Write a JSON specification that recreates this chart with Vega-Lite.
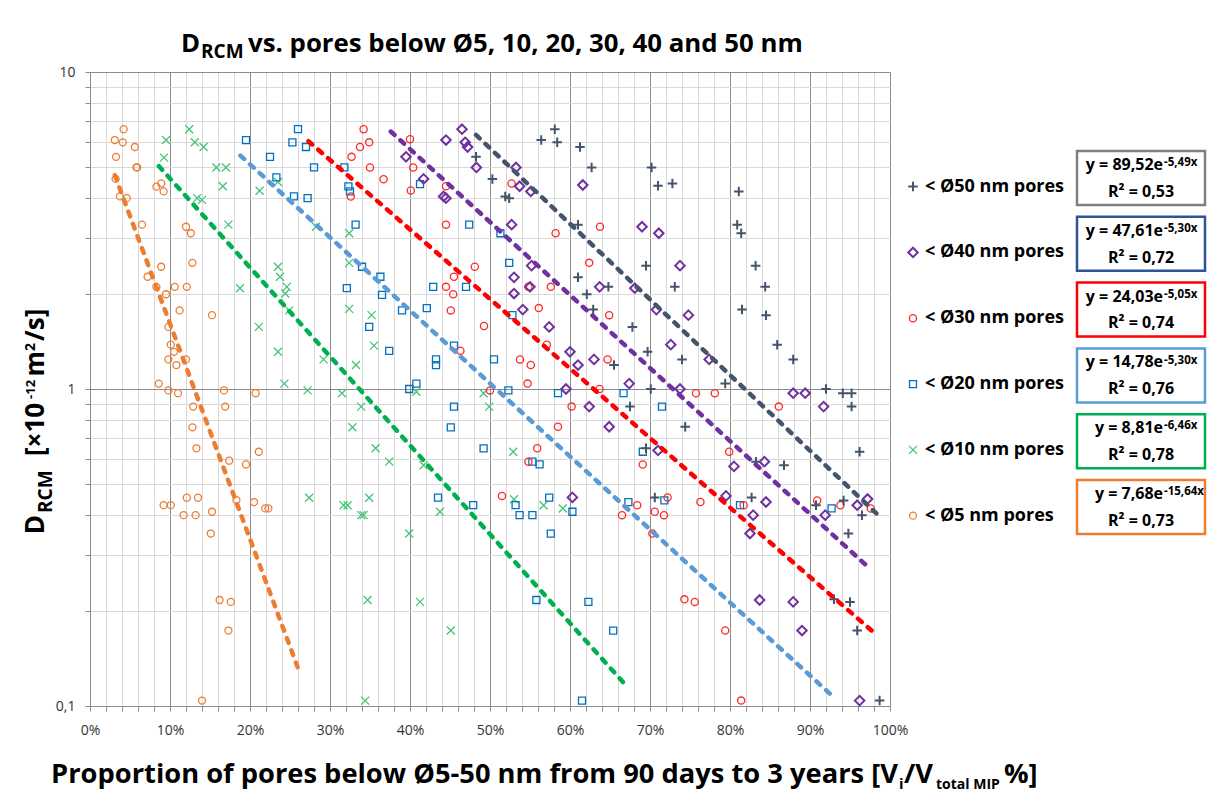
{
"$schema": "https://vega.github.io/schema/vega-lite/v6.json",
"width": 800,
"height": 634,
"autosize": {"type": "none"},
"padding": {"left": 90, "top": 72, "right": 324, "bottom": 88},
"background": "white",
"config": {"view": {"stroke": null}, "font": "Open Sans"},
"datasets": {
"points": [
{"series":"Ø5","x":0.031,"y":6.1},{"series":"Ø5","x":0.042,"y":6.6},{"series":"Ø5","x":0.041,"y":6.0},{"series":"Ø5","x":0.056,"y":5.8},{"series":"Ø5","x":0.0325,"y":5.4},{"series":"Ø5","x":0.058,"y":5.0},{"series":"Ø5","x":0.059,"y":5.0},{"series":"Ø5","x":0.032,"y":4.6},{"series":"Ø5","x":0.0375,"y":4.05},{"series":"Ø5","x":0.046,"y":4.0},{"series":"Ø5","x":0.065,"y":3.3},{"series":"Ø5","x":0.083,"y":4.35},{"series":"Ø5","x":0.089,"y":4.45},{"series":"Ø5","x":0.092,"y":4.2},{"series":"Ø5","x":0.12,"y":3.25},{"series":"Ø5","x":0.126,"y":3.1},{"series":"Ø5","x":0.089,"y":2.43},{"series":"Ø5","x":0.072,"y":2.26},{"series":"Ø5","x":0.128,"y":2.5},{"series":"Ø5","x":0.083,"y":2.1},{"series":"Ø5","x":0.095,"y":1.99},{"series":"Ø5","x":0.106,"y":2.1},{"series":"Ø5","x":0.121,"y":2.1},{"series":"Ø5","x":0.112,"y":1.77},{"series":"Ø5","x":0.1525,"y":1.71},{"series":"Ø5","x":0.098,"y":1.57},{"series":"Ø5","x":0.101,"y":1.38},{"series":"Ø5","x":0.105,"y":1.31},{"series":"Ø5","x":0.098,"y":1.24},{"series":"Ø5","x":0.108,"y":1.19},{"series":"Ø5","x":0.12,"y":1.24},{"series":"Ø5","x":0.086,"y":1.04},{"series":"Ø5","x":0.098,"y":0.99},{"series":"Ø5","x":0.11,"y":0.97},{"series":"Ø5","x":0.1675,"y":0.99},{"series":"Ø5","x":0.207,"y":0.97},{"series":"Ø5","x":0.129,"y":0.88},{"series":"Ø5","x":0.169,"y":0.88},{"series":"Ø5","x":0.128,"y":0.757},{"series":"Ø5","x":0.133,"y":0.65},{"series":"Ø5","x":0.211,"y":0.634},{"series":"Ø5","x":0.174,"y":0.594},{"series":"Ø5","x":0.195,"y":0.578},{"series":"Ø5","x":0.121,"y":0.454},{"series":"Ø5","x":0.135,"y":0.454},{"series":"Ø5","x":0.092,"y":0.43},{"series":"Ø5","x":0.101,"y":0.43},{"series":"Ø5","x":0.117,"y":0.4},{"series":"Ø5","x":0.132,"y":0.4},{"series":"Ø5","x":0.1525,"y":0.41},{"series":"Ø5","x":0.183,"y":0.446},{"series":"Ø5","x":0.205,"y":0.44},{"series":"Ø5","x":0.219,"y":0.42},{"series":"Ø5","x":0.223,"y":0.42},{"series":"Ø5","x":0.151,"y":0.35},{"series":"Ø5","x":0.162,"y":0.216},{"series":"Ø5","x":0.176,"y":0.213},{"series":"Ø5","x":0.173,"y":0.173},{"series":"Ø5","x":0.14,"y":0.104},
{"series":"Ø10","x":0.095,"y":6.1},{"series":"Ø10","x":0.0925,"y":5.37},{"series":"Ø10","x":0.124,"y":6.6},{"series":"Ø10","x":0.131,"y":6.0},{"series":"Ø10","x":0.142,"y":5.8},{"series":"Ø10","x":0.158,"y":5.0},{"series":"Ø10","x":0.17,"y":5.0},{"series":"Ø10","x":0.166,"y":4.36},{"series":"Ø10","x":0.134,"y":4.0},{"series":"Ø10","x":0.14,"y":3.95},{"series":"Ø10","x":0.173,"y":3.3},{"series":"Ø10","x":0.212,"y":4.22},{"series":"Ø10","x":0.235,"y":4.5},{"series":"Ø10","x":0.2825,"y":3.25},{"series":"Ø10","x":0.324,"y":3.1},{"series":"Ø10","x":0.324,"y":2.5},{"series":"Ø10","x":0.1875,"y":2.08},{"series":"Ø10","x":0.235,"y":2.43},{"series":"Ø10","x":0.2375,"y":2.26},{"series":"Ø10","x":0.246,"y":2.1},{"series":"Ø10","x":0.244,"y":2.0},{"series":"Ø10","x":0.249,"y":1.77},{"series":"Ø10","x":0.211,"y":1.57},{"series":"Ø10","x":0.235,"y":1.31},{"series":"Ø10","x":0.292,"y":1.24},{"series":"Ø10","x":0.3325,"y":1.19},{"series":"Ø10","x":0.324,"y":1.79},{"series":"Ø10","x":0.352,"y":1.71},{"series":"Ø10","x":0.355,"y":1.37},{"series":"Ø10","x":0.243,"y":1.04},{"series":"Ø10","x":0.272,"y":0.99},{"series":"Ø10","x":0.315,"y":0.97},{"series":"Ø10","x":0.339,"y":0.88},{"series":"Ø10","x":0.328,"y":0.757},{"series":"Ø10","x":0.357,"y":0.65},{"series":"Ø10","x":0.274,"y":0.454},{"series":"Ø10","x":0.317,"y":0.43},{"series":"Ø10","x":0.322,"y":0.43},{"series":"Ø10","x":0.339,"y":0.4},{"series":"Ø10","x":0.342,"y":0.4},{"series":"Ø10","x":0.349,"y":0.454},{"series":"Ø10","x":0.347,"y":0.216},{"series":"Ø10","x":0.344,"y":0.104},{"series":"Ø10","x":0.408,"y":0.98},{"series":"Ø10","x":0.492,"y":0.97},{"series":"Ø10","x":0.499,"y":0.88},{"series":"Ø10","x":0.374,"y":0.59},{"series":"Ø10","x":0.417,"y":0.575},{"series":"Ø10","x":0.529,"y":0.634},{"series":"Ø10","x":0.53,"y":0.449},{"series":"Ø10","x":0.567,"y":0.43},{"series":"Ø10","x":0.591,"y":0.42},{"series":"Ø10","x":0.4375,"y":0.41},{"series":"Ø10","x":0.399,"y":0.35},{"series":"Ø10","x":0.4125,"y":0.213},{"series":"Ø10","x":0.451,"y":0.173},
{"series":"Ø20","x":0.195,"y":6.1},{"series":"Ø20","x":0.225,"y":5.4},{"series":"Ø20","x":0.233,"y":4.65},{"series":"Ø20","x":0.253,"y":6.0},{"series":"Ø20","x":0.26,"y":6.6},{"series":"Ø20","x":0.27,"y":5.8},{"series":"Ø20","x":0.28,"y":5.0},{"series":"Ø20","x":0.255,"y":4.05},{"series":"Ø20","x":0.272,"y":4.0},{"series":"Ø20","x":0.318,"y":5.0},{"series":"Ø20","x":0.323,"y":4.36},{"series":"Ø20","x":0.325,"y":4.2},{"series":"Ø20","x":0.332,"y":3.3},{"series":"Ø20","x":0.34,"y":2.43},{"series":"Ø20","x":0.321,"y":2.08},{"series":"Ø20","x":0.349,"y":1.57},{"series":"Ø20","x":0.363,"y":2.26},{"series":"Ø20","x":0.365,"y":1.98},{"series":"Ø20","x":0.4125,"y":4.43},{"series":"Ø20","x":0.39,"y":1.77},{"series":"Ø20","x":0.421,"y":1.8},{"series":"Ø20","x":0.429,"y":2.1},{"series":"Ø20","x":0.47,"y":2.1},{"series":"Ø20","x":0.474,"y":3.3},{"series":"Ø20","x":0.513,"y":3.1},{"series":"Ø20","x":0.524,"y":2.5},{"series":"Ø20","x":0.528,"y":1.71},{"series":"Ø20","x":0.374,"y":1.32},{"series":"Ø20","x":0.4325,"y":1.24},{"series":"Ø20","x":0.4325,"y":1.19},{"series":"Ø20","x":0.455,"y":1.37},{"series":"Ø20","x":0.505,"y":1.24},{"series":"Ø20","x":0.399,"y":1.0},{"series":"Ø20","x":0.408,"y":1.04},{"series":"Ø20","x":0.523,"y":0.99},{"series":"Ø20","x":0.455,"y":0.88},{"series":"Ø20","x":0.451,"y":0.757},{"series":"Ø20","x":0.492,"y":0.65},{"series":"Ø20","x":0.553,"y":0.59},{"series":"Ø20","x":0.562,"y":0.578},{"series":"Ø20","x":0.435,"y":0.454},{"series":"Ø20","x":0.479,"y":0.43},{"series":"Ø20","x":0.532,"y":0.43},{"series":"Ø20","x":0.537,"y":0.4},{"series":"Ø20","x":0.553,"y":0.4},{"series":"Ø20","x":0.574,"y":0.454},{"series":"Ø20","x":0.603,"y":0.41},{"series":"Ø20","x":0.576,"y":0.35},{"series":"Ø20","x":0.585,"y":0.97},{"series":"Ø20","x":0.667,"y":0.97},{"series":"Ø20","x":0.558,"y":0.216},{"series":"Ø20","x":0.623,"y":0.213},{"series":"Ø20","x":0.654,"y":0.173},{"series":"Ø20","x":0.615,"y":0.104},{"series":"Ø20","x":0.715,"y":0.88},{"series":"Ø20","x":0.691,"y":0.634},{"series":"Ø20","x":0.673,"y":0.44},{"series":"Ø20","x":0.718,"y":0.445},{"series":"Ø20","x":0.8125,"y":0.43},{"series":"Ø20","x":0.927,"y":0.42},
{"series":"Ø30","x":0.342,"y":6.6},{"series":"Ø30","x":0.349,"y":6.0},{"series":"Ø30","x":0.3375,"y":5.8},{"series":"Ø30","x":0.327,"y":5.4},{"series":"Ø30","x":0.35,"y":5.0},{"series":"Ø30","x":0.326,"y":4.05},{"series":"Ø30","x":0.367,"y":4.59},{"series":"Ø30","x":0.4,"y":6.14},{"series":"Ø30","x":0.404,"y":5.0},{"series":"Ø30","x":0.401,"y":4.23},{"series":"Ø30","x":0.445,"y":4.36},{"series":"Ø30","x":0.445,"y":3.3},{"series":"Ø30","x":0.527,"y":4.45},{"series":"Ø30","x":0.582,"y":3.1},{"series":"Ø30","x":0.6375,"y":3.25},{"series":"Ø30","x":0.624,"y":2.5},{"series":"Ø30","x":0.481,"y":2.43},{"series":"Ø30","x":0.455,"y":2.26},{"series":"Ø30","x":0.445,"y":2.1},{"series":"Ø30","x":0.454,"y":1.99},{"series":"Ø30","x":0.451,"y":1.77},{"series":"Ø30","x":0.4925,"y":1.58},{"series":"Ø30","x":0.548,"y":2.1},{"series":"Ø30","x":0.561,"y":1.8},{"series":"Ø30","x":0.576,"y":2.1},{"series":"Ø30","x":0.649,"y":1.71},{"series":"Ø30","x":0.463,"y":1.32},{"series":"Ø30","x":0.5375,"y":1.24},{"series":"Ø30","x":0.551,"y":1.19},{"series":"Ø30","x":0.571,"y":1.38},{"series":"Ø30","x":0.647,"y":1.24},{"series":"Ø30","x":0.547,"y":1.04},{"series":"Ø30","x":0.637,"y":1.0},{"series":"Ø30","x":0.5,"y":0.99},{"series":"Ø30","x":0.602,"y":0.88},{"series":"Ø30","x":0.585,"y":0.76},{"series":"Ø30","x":0.559,"y":0.65},{"series":"Ø30","x":0.548,"y":0.59},{"series":"Ø30","x":0.515,"y":0.46},{"series":"Ø30","x":0.665,"y":0.4},{"series":"Ø30","x":0.684,"y":0.43},{"series":"Ø30","x":0.691,"y":0.578},{"series":"Ø30","x":0.7575,"y":0.97},{"series":"Ø30","x":0.781,"y":0.97},{"series":"Ø30","x":0.861,"y":0.88},{"series":"Ø30","x":0.799,"y":0.634},{"series":"Ø30","x":0.706,"y":0.41},{"series":"Ø30","x":0.7175,"y":0.4},{"series":"Ø30","x":0.722,"y":0.455},{"series":"Ø30","x":0.703,"y":0.35},{"series":"Ø30","x":0.763,"y":0.44},{"series":"Ø30","x":0.817,"y":0.43},{"series":"Ø30","x":0.909,"y":0.445},{"series":"Ø30","x":0.938,"y":0.43},{"series":"Ø30","x":0.976,"y":0.42},{"series":"Ø30","x":0.743,"y":0.217},{"series":"Ø30","x":0.756,"y":0.213},{"series":"Ø30","x":0.794,"y":0.173},{"series":"Ø30","x":0.814,"y":0.104},
{"series":"Ø40","x":0.465,"y":6.6},{"series":"Ø40","x":0.445,"y":6.1},{"series":"Ø40","x":0.469,"y":6.0},{"series":"Ø40","x":0.472,"y":5.8},{"series":"Ø40","x":0.395,"y":5.4},{"series":"Ø40","x":0.483,"y":5.0},{"series":"Ø40","x":0.417,"y":4.6},{"series":"Ø40","x":0.442,"y":4.05},{"series":"Ø40","x":0.445,"y":4.0},{"series":"Ø40","x":0.5325,"y":5.0},{"series":"Ø40","x":0.537,"y":4.36},{"series":"Ø40","x":0.551,"y":4.2},{"series":"Ø40","x":0.616,"y":4.4},{"series":"Ø40","x":0.527,"y":3.3},{"series":"Ø40","x":0.69,"y":3.25},{"series":"Ø40","x":0.711,"y":3.1},{"series":"Ø40","x":0.552,"y":2.45},{"series":"Ø40","x":0.53,"y":2.25},{"series":"Ø40","x":0.53,"y":2.0},{"series":"Ø40","x":0.55,"y":2.1},{"series":"Ø40","x":0.541,"y":1.78},{"series":"Ø40","x":0.574,"y":1.57},{"series":"Ø40","x":0.637,"y":2.1},{"series":"Ø40","x":0.6,"y":1.31},{"series":"Ø40","x":0.61,"y":1.19},{"series":"Ø40","x":0.63,"y":1.24},{"series":"Ø40","x":0.674,"y":1.04},{"series":"Ø40","x":0.595,"y":1.0},{"series":"Ø40","x":0.681,"y":2.08},{"series":"Ø40","x":0.7375,"y":2.45},{"series":"Ø40","x":0.708,"y":1.78},{"series":"Ø40","x":0.748,"y":1.71},{"series":"Ø40","x":0.726,"y":1.38},{"series":"Ø40","x":0.774,"y":1.24},{"series":"Ø40","x":0.7375,"y":1.0},{"series":"Ø40","x":0.879,"y":0.97},{"series":"Ø40","x":0.894,"y":0.97},{"series":"Ø40","x":0.917,"y":0.88},{"series":"Ø40","x":0.71,"y":0.64},{"series":"Ø40","x":0.805,"y":0.57},{"series":"Ø40","x":0.843,"y":0.59},{"series":"Ø40","x":0.795,"y":0.46},{"series":"Ø40","x":0.845,"y":0.44},{"series":"Ø40","x":0.829,"y":0.4},{"series":"Ø40","x":0.825,"y":0.35},{"series":"Ø40","x":0.919,"y":0.4},{"series":"Ø40","x":0.959,"y":0.43},{"series":"Ø40","x":0.972,"y":0.45},{"series":"Ø40","x":0.837,"y":0.216},{"series":"Ø40","x":0.879,"y":0.213},{"series":"Ø40","x":0.89,"y":0.173},{"series":"Ø40","x":0.962,"y":0.104},{"series":"Ø40","x":0.624,"y":0.88},{"series":"Ø40","x":0.649,"y":0.76},{"series":"Ø40","x":0.603,"y":0.455},
{"series":"Ø50","x":0.581,"y":6.6},{"series":"Ø50","x":0.564,"y":6.1},{"series":"Ø50","x":0.584,"y":6.0},{"series":"Ø50","x":0.6125,"y":5.8},{"series":"Ø50","x":0.627,"y":5.0},{"series":"Ø50","x":0.4825,"y":5.4},{"series":"Ø50","x":0.503,"y":4.6},{"series":"Ø50","x":0.519,"y":4.05},{"series":"Ø50","x":0.524,"y":4.0},{"series":"Ø50","x":0.61,"y":3.3},{"series":"Ø50","x":0.61,"y":2.25},{"series":"Ø50","x":0.621,"y":1.99},{"series":"Ø50","x":0.629,"y":1.78},{"series":"Ø50","x":0.648,"y":2.1},{"series":"Ø50","x":0.678,"y":1.57},{"series":"Ø50","x":0.655,"y":1.19},{"series":"Ø50","x":0.702,"y":5.0},{"series":"Ø50","x":0.71,"y":4.38},{"series":"Ø50","x":0.728,"y":4.45},{"series":"Ø50","x":0.811,"y":4.2},{"series":"Ø50","x":0.809,"y":3.3},{"series":"Ø50","x":0.814,"y":3.1},{"series":"Ø50","x":0.695,"y":2.45},{"series":"Ø50","x":0.731,"y":2.1},{"series":"Ø50","x":0.832,"y":2.45},{"series":"Ø50","x":0.844,"y":2.1},{"series":"Ø50","x":0.815,"y":1.78},{"series":"Ø50","x":0.845,"y":1.71},{"series":"Ø50","x":0.859,"y":1.38},{"series":"Ø50","x":0.879,"y":1.24},{"series":"Ø50","x":0.697,"y":1.31},{"series":"Ø50","x":0.74,"y":1.24},{"series":"Ø50","x":0.794,"y":1.04},{"series":"Ø50","x":0.701,"y":1.0},{"series":"Ø50","x":0.92,"y":1.0},{"series":"Ø50","x":0.675,"y":0.88},{"series":"Ø50","x":0.744,"y":0.76},{"series":"Ø50","x":0.695,"y":0.65},{"series":"Ø50","x":0.8325,"y":0.59},{"series":"Ø50","x":0.8675,"y":0.575},{"series":"Ø50","x":0.941,"y":0.97},{"series":"Ø50","x":0.952,"y":0.97},{"series":"Ø50","x":0.952,"y":0.88},{"series":"Ø50","x":0.962,"y":0.634},{"series":"Ø50","x":0.706,"y":0.455},{"series":"Ø50","x":0.827,"y":0.455},{"series":"Ø50","x":0.9075,"y":0.43},{"series":"Ø50","x":0.942,"y":0.445},{"series":"Ø50","x":0.965,"y":0.4},{"series":"Ø50","x":0.948,"y":0.35},{"series":"Ø50","x":0.93,"y":0.217},{"series":"Ø50","x":0.95,"y":0.213},{"series":"Ø50","x":0.959,"y":0.173},{"series":"Ø50","x":0.987,"y":0.104}
],
"trend": [
{"series":"Ø5","x":0.031,"y":4.73},{"series":"Ø5","x":0.2625,"y":0.1266},
{"series":"Ø10","x":0.086,"y":5.05},{"series":"Ø10","x":0.6675,"y":0.118},
{"series":"Ø20","x":0.188,"y":5.45},{"series":"Ø20","x":0.929,"y":0.107},
{"series":"Ø30","x":0.273,"y":6.05},{"series":"Ø30","x":0.977,"y":0.173},
{"series":"Ø40","x":0.376,"y":6.49},{"series":"Ø40","x":0.975,"y":0.271},
{"series":"Ø50","x":0.4825,"y":6.33},{"series":"Ø50","x":0.983,"y":0.405}
],
"legend": [
{"series":"Ø50","label":"< Ø50 nm pores","eq":"y = 89,52e","exp":"-5,49x","r2":"R² = 0,53"},
{"series":"Ø40","label":"< Ø40 nm pores","eq":"y = 47,61e","exp":"-5,30x","r2":"R² = 0,72"},
{"series":"Ø30","label":"< Ø30 nm pores","eq":"y = 24,03e","exp":"-5,05x","r2":"R² = 0,74"},
{"series":"Ø20","label":"< Ø20 nm pores","eq":"y = 14,78e","exp":"-5,30x","r2":"R² = 0,76"},
{"series":"Ø10","label":"< Ø10 nm pores","eq":"y = 8,81e","exp":"-6,46x","r2":"R² = 0,78"},
{"series":"Ø5","label":"< Ø5 nm pores","eq":"y = 7,68e","exp":"-15,64x","r2":"R² = 0,73"}
]
},
"layer": [
{
"layer": [
{
"data": {"name": "points"},
"transform": [{"filter": "datum.series != 'Ø50' && datum.series != 'Ø40'"}],
"mark": {"type": "point", "filled": false, "size": 100, "strokeWidth": 1.3, "opacity": 1},
"encoding": {
"x": {"field": "x", "type": "quantitative", "scale": {"domain": [0, 1], "nice": false, "zero": false},
"axis": {"values": [0,0.02,0.04,0.06,0.08,0.1,0.12,0.14,0.16,0.18,0.2,0.22,0.24,0.26,0.28,0.3,0.32,0.34,0.36,0.38,0.4,0.42,0.44,0.46,0.48,0.5,0.52,0.54,0.56,0.58,0.6,0.62,0.64,0.66,0.68,0.7,0.72,0.74,0.76,0.78,0.8,0.82,0.84,0.86,0.88,0.9,0.92,0.94,0.96,0.98,1],
"tickCount": 500,
"format": ".0%", "labelExpr": "round(datum.value*100) % 10 == 0 ? datum.label : ''",
"labelFont": "Open Sans", "labelFontSize": 14, "labelColor": "#333333", "labelPadding": 12, "labelFlush": false, "labelOverlap": false,
"grid": true, "gridColor": {"condition": {"test": "round(datum.value*100) % 10 == 0", "value": "#8C8C8C"}, "value": "#D9D9D9"},
"tickColor": "#8C8C8C", "tickSize": 5, "domainColor": "#8C8C8C", "title": null}},
"y": {"field": "y", "type": "quantitative", "scale": {"type": "log", "domain": [0.1, 10], "nice": false},
"axis": {"values": [0.1,0.2,0.3,0.4,0.5,0.6,0.7,0.8,0.9,1,2,3,4,5,6,7,8,9,10],
"tickCount": 500,
"labelExpr": "datum.value == 0.1 ? '0,1' : (datum.value == 1 ? '1' : (datum.value == 10 ? '10' : ''))",
"labelFont": "Open Sans", "labelFontSize": 14, "labelColor": "#333333", "labelPadding": 10, "labelOverlap": false,
"grid": true, "gridColor": {"condition": {"test": "datum.value == 0.1 || datum.value == 1 || datum.value == 10", "value": "#8C8C8C"}, "value": "#D9D9D9"},
"tickColor": "#8C8C8C", "tickSize": 5, "domainColor": "#8C8C8C", "title": null}},
"shape": {"field": "series", "type": "nominal", "scale": {"domain": ["Ø50","Ø40","Ø30","Ø20","Ø10","Ø5"], "range": ["M-0.95,0L0.95,0M0,-0.95L0,0.95","M-0.95,0L0,-0.95L0.95,0L0,0.95Z","M0.72,0A0.72,0.72,0,1,1,-0.72,0A0.72,0.72,0,1,1,0.72,0Z","M-0.7,-0.7L0.7,-0.7L0.7,0.7L-0.7,0.7Z","M-0.8,-0.8L0.8,0.8M-0.8,0.8L0.8,-0.8","M0.7,0A0.7,0.7,0,1,1,-0.7,0A0.7,0.7,0,1,1,0.7,0Z"]}, "legend": null},
"color": {"field": "series", "type": "nominal", "scale": {"domain": ["Ø50","Ø40","Ø30","Ø20","Ø10","Ø5"], "range": ["#44546A","#7030A0","#FF2A2A","#0070C0","#45C477","#ED7D31"]}, "legend": null}
}
},
{
"data": {"name": "points"},
"transform": [{"filter": "datum.series == 'Ø50' || datum.series == 'Ø40'"}],
"mark": {"type": "point", "filled": false, "size": 100, "strokeWidth": 2, "opacity": 1},
"encoding": {
"x": {"field": "x", "type": "quantitative"},
"y": {"field": "y", "type": "quantitative"},
"shape": {"field": "series", "type": "nominal", "legend": null},
"color": {"field": "series", "type": "nominal", "legend": null}
}
},
{
"data": {"name": "trend"},
"mark": {"type": "line", "strokeDash": [5, 8], "strokeWidth": 4.5, "strokeCap": "round"},
"encoding": {
"x": {"field": "x", "type": "quantitative"},
"y": {"field": "y", "type": "quantitative"},
"stroke": {"field": "series", "type": "nominal", "scale": {"domain": ["Ø50","Ø40","Ø30","Ø20","Ø10","Ø5"], "range": ["#44546A","#7030A0","#FF0000","#5B9BD5","#00B050","#ED7D31"]}, "legend": null}
}
},
{"data": {"values": [{}]}, "mark": {"type": "text", "text": "D", "align": "right", "baseline": "alphabetic", "font": "Open Sans", "fontWeight": "bold", "fontSize": 25.8, "color": "#000000"},
"encoding": {"x": {"datum": 0.1375, "type": "quantitative"}, "y": {"datum": 11.564, "type": "quantitative"}}},
{"data": {"values": [{}]}, "mark": {"type": "text", "text": "RCM", "align": "left", "baseline": "alphabetic", "font": "Open Sans", "fontWeight": "bold", "fontSize": 19, "color": "#000000"},
"encoding": {"x": {"datum": 0.13875, "type": "quantitative"}, "y": {"datum": 11.069, "type": "quantitative"}}},
{"data": {"values": [{}]}, "mark": {"type": "text", "text": "vs. pores below Ø5, 10, 20, 30, 40 and 50 nm", "align": "left", "baseline": "alphabetic", "font": "Open Sans", "fontWeight": "bold", "fontSize": 25.8, "color": "#000000"},
"encoding": {"x": {"datum": 0.1975, "type": "quantitative"}, "y": {"datum": 11.564, "type": "quantitative"}}},
{"data": {"values": [{}]}, "mark": {"type": "text", "text": "D", "angle": 270, "align": "right", "baseline": "alphabetic", "font": "Open Sans", "fontWeight": "bold", "fontSize": 26, "color": "#000000"},
"encoding": {"x": {"datum": -0.0575, "type": "quantitative"}, "y": {"datum": 0.4004, "type": "quantitative"}}},
{"data": {"values": [{}]}, "mark": {"type": "text", "text": "RCM", "angle": 270, "align": "left", "baseline": "alphabetic", "font": "Open Sans", "fontWeight": "bold", "fontSize": 19, "color": "#000000"},
"encoding": {"x": {"datum": -0.0475, "type": "quantitative"}, "y": {"datum": 0.4063, "type": "quantitative"}}},
{"data": {"values": [{}]}, "mark": {"type": "text", "text": "[×10", "angle": 270, "align": "left", "baseline": "alphabetic", "font": "Open Sans", "fontWeight": "bold", "fontSize": 26, "color": "#000000"},
"encoding": {"x": {"datum": -0.0575, "type": "quantitative"}, "y": {"datum": 0.6146, "type": "quantitative"}}},
{"data": {"values": [{}]}, "mark": {"type": "text", "text": "-12", "angle": 270, "align": "left", "baseline": "alphabetic", "font": "Open Sans", "fontWeight": "bold", "fontSize": 13, "color": "#000000"},
"encoding": {"x": {"datum": -0.06875, "type": "quantitative"}, "y": {"datum": 0.93, "type": "quantitative"}}},
{"data": {"values": [{}]}, "mark": {"type": "text", "text": "m", "angle": 270, "align": "left", "baseline": "alphabetic", "font": "Open Sans", "fontWeight": "bold", "fontSize": 26, "color": "#000000"},
"encoding": {"x": {"datum": -0.0575, "type": "quantitative"}, "y": {"datum": 1.096, "type": "quantitative"}}},
{"data": {"values": [{}]}, "mark": {"type": "text", "text": "2", "angle": 270, "align": "left", "baseline": "alphabetic", "font": "Open Sans", "fontWeight": "bold", "fontSize": 14, "color": "#000000"},
"encoding": {"x": {"datum": -0.06875, "type": "quantitative"}, "y": {"datum": 1.318, "type": "quantitative"}}},
{"data": {"values": [{}]}, "mark": {"type": "text", "text": "/s]", "angle": 270, "align": "left", "baseline": "alphabetic", "font": "Open Sans", "fontWeight": "bold", "fontSize": 26, "color": "#000000"},
"encoding": {"x": {"datum": -0.0575, "type": "quantitative"}, "y": {"datum": 1.417, "type": "quantitative"}}},
{"data": {"values": [{}]}, "mark": {"type": "text", "text": "Proportion of pores below Ø5-50 nm from 90 days to 3 years [V", "align": "right", "baseline": "alphabetic", "font": "Open Sans", "fontWeight": "bold", "fontSize": 27.3, "color": "#000000"},
"encoding": {"x": {"datum": 1.01, "type": "quantitative"}, "y": {"datum": 0.05716, "type": "quantitative"}}},
{"data": {"values": [{}]}, "mark": {"type": "text", "text": "i", "align": "left", "baseline": "alphabetic", "font": "Open Sans", "fontWeight": "bold", "fontSize": 15, "color": "#000000"},
"encoding": {"x": {"datum": 1.01125, "type": "quantitative"}, "y": {"datum": 0.05472, "type": "quantitative"}}},
{"data": {"values": [{}]}, "mark": {"type": "text", "text": "/V", "align": "left", "baseline": "alphabetic", "font": "Open Sans", "fontWeight": "bold", "fontSize": 27.3, "color": "#000000"},
"encoding": {"x": {"datum": 1.0175, "type": "quantitative"}, "y": {"datum": 0.05716, "type": "quantitative"}}},
{"data": {"values": [{}]}, "mark": {"type": "text", "text": "total MIP", "align": "left", "baseline": "alphabetic", "font": "Open Sans", "fontWeight": "bold", "fontSize": 14, "color": "#000000"},
"encoding": {"x": {"datum": 1.0575, "type": "quantitative"}, "y": {"datum": 0.05472, "type": "quantitative"}}},
{"data": {"values": [{}]}, "mark": {"type": "text", "text": "%]", "align": "left", "baseline": "alphabetic", "font": "Open Sans", "fontWeight": "bold", "fontSize": 27.3, "color": "#000000"},
"encoding": {"x": {"datum": 1.1425, "type": "quantitative"}, "y": {"datum": 0.05716, "type": "quantitative"}}}
]
},
{
"data": {"name": "legend"},
"layer": [
{
"mark": {"type": "rect", "fill": "white", "strokeWidth": 2.5},
"encoding": {
"x": {"datum": 1.23375, "type": "quantitative"},
"x2": {"datum": 1.39375},
"y": {"field": "series", "type": "nominal", "scale": {"type": "band", "domain": ["Ø50","Ø40","Ø30","Ø20","Ø10","Ø5"], "range": [79, 462], "paddingInner": 0.18, "paddingOuter": 0}, "axis": null},
"stroke": {"field": "series", "type": "nominal", "scale": {"domain": ["Ø50","Ø40","Ø30","Ø20","Ø10","Ø5"], "range": ["#7F7F7F","#2F5597","#FF0000","#5B9BD5","#00B050","#ED7D31"]}, "legend": null}
}
},
{
"transform": [{"filter": "datum.series != 'Ø50' && datum.series != 'Ø40'"}],
"mark": {"type": "point", "filled": false, "size": 100, "strokeWidth": 1.3, "opacity": 1},
"encoding": {
"x": {"datum": 1.02875, "type": "quantitative"},
"y": {"field": "series", "type": "nominal", "bandPosition": 0.66},
"shape": {"field": "series", "type": "nominal", "legend": null},
"color": {"field": "series", "type": "nominal", "legend": null}
}
},
{
"transform": [{"filter": "datum.series == 'Ø50' || datum.series == 'Ø40'"}],
"mark": {"type": "point", "filled": false, "size": 100, "strokeWidth": 2, "opacity": 1},
"encoding": {
"x": {"datum": 1.02875, "type": "quantitative"},
"y": {"field": "series", "type": "nominal", "bandPosition": 0.66},
"shape": {"field": "series", "type": "nominal", "legend": null},
"color": {"field": "series", "type": "nominal", "legend": null}
}
},
{
"mark": {"type": "text", "align": "left", "baseline": "middle", "font": "Open Sans", "fontWeight": "bold", "fontSize": 18, "color": "#000000"},
"encoding": {
"x": {"datum": 1.04375, "type": "quantitative"},
"y": {"field": "series", "type": "nominal", "bandPosition": 0.66},
"text": {"field": "label"}
}
},
{
"mark": {"type": "text", "align": "right", "baseline": "alphabetic", "font": "Open Sans", "fontWeight": "bold", "fontSize": 16, "color": "#000000"},
"encoding": {
"x": {"datum": 1.34125, "type": "quantitative"},
"y": {"field": "series", "type": "nominal", "bandPosition": 0.35},
"text": {"field": "eq"}
}
},
{
"mark": {"type": "text", "align": "left", "baseline": "alphabetic", "font": "Open Sans", "fontWeight": "bold", "fontSize": 11.5, "color": "#000000"},
"encoding": {
"x": {"datum": 1.3425, "type": "quantitative"},
"y": {"field": "series", "type": "nominal", "bandPosition": 0.28},
"text": {"field": "exp"}
}
},
{
"mark": {"type": "text", "align": "center", "baseline": "alphabetic", "font": "Open Sans", "fontWeight": "bold", "fontSize": 16, "color": "#000000"},
"encoding": {
"x": {"datum": 1.31375, "type": "quantitative"},
"y": {"field": "series", "type": "nominal", "bandPosition": 0.85},
"text": {"field": "r2"}
}
}
]
}
],
"resolve": {"scale": {"y": "independent", "stroke": "independent"}}
}
